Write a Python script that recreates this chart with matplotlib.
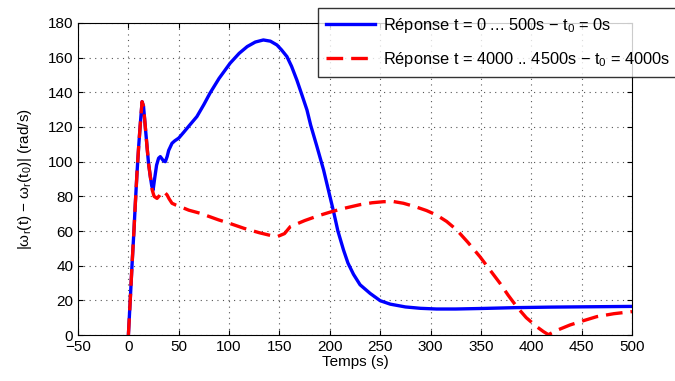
import numpy as np
import matplotlib
matplotlib.use("Agg")
import matplotlib.pyplot as plt

plt.rcParams['font.family'] = ['Liberation Sans', 'DejaVu Sans']
plt.rcParams['mathtext.default'] = 'regular'

# response t = 0 ... 500s
t_blue = [0, 2, 3.7, 5.5, 6.9, 8.5, 10.2, 12, 13.6, 15, 16.5, 18.5, 20, 21.8,
          23.2, 24.5, 26, 28, 30, 31.7, 33.5, 35, 36.7, 38.5, 40, 43.3, 46, 50,
          55, 60, 68, 75, 81, 90, 101, 110, 118, 126, 134, 141, 147.5, 152,
          157.4, 162, 167.3, 172, 177.3, 181, 187.2, 193.8, 198, 203.7, 208,
          213.6, 218, 223.5, 230, 240, 250, 260, 275, 290, 306, 325, 350, 385,
          420, 460, 500]
w_blue = [0, 22, 41.4, 60, 76, 93, 108.7, 123, 134.6, 132, 122, 108.7, 99,
          91.3, 86, 83.5, 90, 98, 102, 102.9, 101.5, 100.3, 100, 103, 106.5,
          110.6, 112, 113.6, 117, 120.5, 126, 133, 139.5, 148, 156.8, 162.5,
          166.4, 169, 170.2, 169.5, 167.3, 164.5, 160.6, 155, 147, 139, 129.8,
          121, 108.7, 95.2, 85, 71.2, 60, 49, 41.5, 35, 29, 24, 19.8, 17.8, 16.2,
          15.4, 15, 15, 15.3, 15.8, 16.1, 16.3, 16.5]

# response t = 4000 ... 4500s
t_red = [0, 2, 3.7, 5.5, 6.9, 8.5, 10.2, 12, 13.6, 15, 16.5, 18.5, 20, 21.8,
         23.5, 25.5, 28.4, 31, 33.4, 36, 38.4, 40.5, 43.3, 47, 51.6, 60, 71.4,
         89.6, 100, 115, 130, 142, 148, 155, 160.7, 175, 188, 202, 215, 230,
         242, 253.3, 263, 273, 285, 296, 306, 316, 326, 337, 349, 359, 369,
         377, 385.6, 395, 405.4, 412, 417, 425, 438.5, 452, 465, 482, 500]
w_red = [0, 22, 41.4, 60, 76, 93, 108.7, 123, 134.6, 132, 122, 108.7, 99, 91.3,
         84, 80, 78.8, 80.5, 82.7, 82.3, 80.8, 78.5, 76, 75, 74, 72, 70.2, 66.4,
         64.5, 61.5, 59, 57.3, 56.8, 58.5, 62.5, 66, 68.7, 71.2, 73.2, 75.2,
         76.3, 76.9, 77, 76, 74, 71.8, 69.2, 65.5, 60.6, 53.5, 45.2, 37.5, 29.8,
         23, 16.3, 10, 4.8, 2, 0.2, 2.6, 5.8, 8.3, 10.6, 12.3, 13.5]

fig = plt.figure(figsize=(6.75, 3.81), dpi=100)
ax = fig.add_axes([0.1156, 0.1207, 0.8207, 0.819])

ax.plot(t_blue, w_blue, color='#0000ff', lw=2.4,
        label='Réponse t = 0 ... 500s $-$ t$_0$ = 0s')
ax.plot(t_red, w_red, color='#ff0000', lw=2.4, dashes=(5, 2.4),
        label='Réponse t = 4000 .. 4500s $-$ t$_0$ = 4000s')

ax.set_xlim(-50, 500)
ax.set_ylim(0, 180)
ax.set_xticks(np.arange(-50, 501, 50))
ax.set_yticks(np.arange(0, 181, 20))
ax.tick_params(direction='in', top=True, right=True, labelsize=11)
ax.grid(True, linestyle=(0, (1, 4)), color='#555555', linewidth=0.8)
ax.set_xlabel('Temps (s)', fontsize=11, labelpad=1)
ax.set_ylabel(r'$|\omega_r(t)$ $-$ $\omega_r(t_0)|$ (rad/s)', fontsize=11,
              labelpad=10)

leg = fig.legend(loc='upper left', bbox_to_anchor=(0.471, 0.979),
                 bbox_transform=fig.transFigure, fontsize=11.8, frameon=True,
                 fancybox=False, edgecolor='black', handlelength=3.0,
                 handletextpad=0.5, labelspacing=0.9, borderpad=0.5,
                 borderaxespad=0)
leg.get_frame().set_linewidth(1.0)

fig.savefig('out.png', dpi=100)
